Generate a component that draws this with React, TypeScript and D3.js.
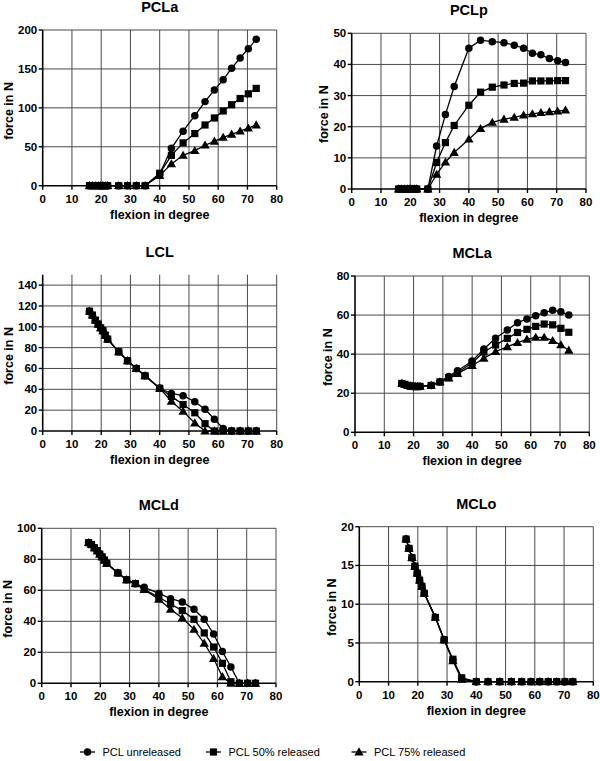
import React from "react";
import * as d3 from "d3";

// Shared flexion angles (degrees)
const angles = [16, 17, 18, 19, 19.8, 20.6, 21.4, 22.2, 26, 29, 32, 35, 40, 44, 48, 52, 55.5, 58.7, 61.7, 64.6, 67.5, 70.3, 73];

const seriesNames = ["PCL unreleased", "PCL 50% released", "PCL 75% released"];
const xTicks = [0, 10, 20, 30, 40, 50, 60, 70, 80];

// PCLa
const pclaUnreleased = [0, 0, 0, 0, 0, 0, 0, 0, 0, 0, 0, 0, 15, 48, 70, 90, 108, 123, 136, 151, 164, 176, 188];
const pcla50 = [0, 0, 0, 0, 0, 0, 0, 0, 0, 0, 0, 0, 16, 39, 55, 67, 78, 87, 96, 104, 112, 118, 125];
const pcla75 = [0, 0, 0, 0, 0, 0, 0, 0, 0, 0, 0, 0, 13, 28, 39, 45, 52, 57, 62, 66, 70, 74, 78];

// PCLp
const pclpUnreleased = [0, 0, 0, 0, 0, 0, 0, 0, 0, 13.8, 23.9, 32.9, 45.2, 47.8, 47.3, 47, 46.2, 45.2, 43.6, 43.1, 41.9, 41.2, 40.6];
const pclp50 = [0, 0, 0, 0, 0, 0, 0, 0, 0, 8.5, 14.9, 20.4, 26.9, 31.1, 32.7, 33.4, 33.9, 34.0, 34.7, 34.7, 34.7, 34.8, 34.8];
const pclp75 = [0, 0, 0, 0, 0, 0, 0, 0, 0, 4.7, 8.6, 11.7, 16, 19.4, 21.4, 22.4, 23.0, 23.7, 24.1, 24.5, 24.8, 25.0, 25.3];

// LCL
const lclUnreleased = [115, 111.2, 106.4, 102.6, 99, 96.2, 92, 88.2, 76, 67.4, 60, 53, 41, 36, 33.9, 28.1, 20.8, 11.3, 2.4, 0, 0, 0, 0];
const lcl50 = [115, 111.2, 106.4, 102.6, 99, 96.2, 92, 88.2, 76, 67.4, 60, 53, 41, 33.2, 25.4, 17.5, 7, 0, 0, 0, 0, 0, 0];
const lcl75 = [115, 111.2, 106.4, 102.6, 99, 96.2, 92, 88.2, 76, 67.4, 60, 53, 41, 28.5, 18.8, 7.7, 0, 0, 0, 0, 0, 0, 0];

// MCLa
const mclaUnreleased = [25, 24.5, 24, 23.7, 23.5, 23.4, 23.4, 23.5, 24, 25.8, 28.6, 31.5, 36.5, 42.6, 48.1, 52.4, 56.1, 58, 59.7, 61.2, 62.5, 61.7, 60];
const mcla50 = [25, 24.5, 24, 23.7, 23.5, 23.4, 23.4, 23.5, 24, 25.8, 28, 30.5, 35.6, 41.1, 44.7, 48.1, 51.1, 52.7, 54.2, 55.4, 55, 53.2, 51.2];
const mcla75 = [25, 24.5, 24, 23.7, 23.5, 23.4, 23.4, 23.5, 24, 25.8, 27.7, 30, 34.1, 37.9, 41.3, 43.8, 45.9, 47.6, 48.6, 48.6, 46.9, 44.7, 42];

// MCLd
const mcldUnreleased = [90.7, 89.5, 87.4, 85.5, 83.4, 81.6, 79.5, 77.4, 71.2, 66.8, 64.3, 61.9, 58, 54.6, 52.5, 47.7, 41.3, 31.8, 20.5, 10.5, 0, 0, 0];
const mcld50 = [90.7, 89.5, 87.4, 85.5, 83.4, 81.6, 79.5, 77.4, 71.2, 66.8, 64.3, 60.6, 55.5, 51.2, 46.9, 41.3, 32.5, 23.4, 12.9, 1, 0, 0, 0];
const mcld75 = [90.7, 89.5, 87.4, 85.5, 83.4, 81.6, 79.5, 77.4, 71.2, 66.8, 64.3, 60.4, 54.2, 47.7, 42.1, 34.8, 25.8, 16, 4.2, 0, 0, 0, 0];

// MCLo
const mcloUnreleased = [18.4, 17.2, 16.0, 14.9, 14.0, 13.1, 12.3, 11.4, 8.3, 5.4, 2.8, 0.4, 0, 0, 0, 0, 0, 0, 0, 0, 0, 0, 0];
const mclo50 = [18.4, 17.2, 16.0, 14.9, 14.0, 13.1, 12.3, 11.4, 8.3, 5.4, 2.9, 0.5, 0, 0, 0, 0, 0, 0, 0, 0, 0, 0, 0];
const mclo75 = [18.4, 17.2, 16.0, 14.9, 14.0, 13.1, 12.3, 11.4, 8.3, 5.4, 2.7, 0.3, 0, 0, 0, 0, 0, 0, 0, 0, 0, 0, 0];

const FONT = "'Liberation Sans', Arial, Helvetica, sans-serif";

type PanelDef = {
  title: string;
  left: number; right: number; top: number; bottom: number;
  yMax: number; yTicks: number[];
  series: number[][]; // unreleased, 50, 75
};

const panels: PanelDef[] = [
  { title: "PCLa", left: 42.7, right: 276.7, top: 30, bottom: 185.7, yMax: 200, yTicks: [0, 50, 100, 150, 200], series: [pclaUnreleased, pcla50, pcla75] },
  { title: "PCLp", left: 351.7, right: 586, top: 33.3, bottom: 189, yMax: 50, yTicks: [0, 10, 20, 30, 40, 50], series: [pclpUnreleased, pclp50, pclp75] },
  { title: "LCL", left: 42.7, right: 276.7, top: 274.7, bottom: 431, yMax: 150, yTicks: [0, 20, 40, 60, 80, 100, 120, 140], series: [lclUnreleased, lcl50, lcl75] },
  { title: "MCLa", left: 355, right: 589.3, top: 276, bottom: 432.3, yMax: 80, yTicks: [0, 20, 40, 60, 80], series: [mclaUnreleased, mcla50, mcla75] },
  { title: "MCLd", left: 41.7, right: 276, top: 528.3, bottom: 683.3, yMax: 100, yTicks: [0, 20, 40, 60, 80, 100], series: [mcldUnreleased, mcld50, mcld75] },
  { title: "MCLo", left: 359.3, right: 593.3, top: 526.7, bottom: 681.7, yMax: 20, yTicks: [0, 5, 10, 15, 20], series: [mcloUnreleased, mclo50, mclo75] },
];

const symbolTypes = [d3.symbolCircle, d3.symbolSquare, d3.symbolTriangle];
const symbolSizes = [44, 52, 38];

function Marker({ kind, x, y }: { kind: number; x: number; y: number }) {
  const p = d3.symbol().type(symbolTypes[kind]).size(symbolSizes[kind])();
  const dy = kind === 2 ? 0.7 : 0;
  return <path d={p || ""} transform={`translate(${x},${y + dy})`} fill="#000" />;
}

function Panel({ def }: { def: PanelDef }) {
  const x = d3.scaleLinear().domain([0, 80]).range([def.left, def.right]);
  const y = d3.scaleLinear().domain([0, def.yMax]).range([def.bottom, def.top]);
  const line = d3
    .line<[number, number]>()
    .x((d) => x(d[0]))
    .y((d) => y(d[1]));
  const cx = (def.left + def.right) / 2;
  const cy = (def.top + def.bottom) / 2 + 3;
  const maxLabelLen = d3.max(def.yTicks, (t) => String(t).length) || 2;
  const yTitleOffset = maxLabelLen >= 3 ? 30 : 23.5;
  const order = [2, 0, 1];
  return (
    <g>
      {/* grid */}
      {xTicks.filter((t) => t > 0).map((t) => (
        <line key={"gx" + t} x1={x(t)} x2={x(t)} y1={def.top} y2={def.bottom} stroke="#4a4a4a" strokeWidth={1} />
      ))}
      {def.yTicks.filter((t) => t > 0).map((t) => (
        <line key={"gy" + t} x1={def.left} x2={def.right} y1={y(t)} y2={y(t)} stroke="#4a4a4a" strokeWidth={1} />
      ))}
      {/* axes */}
      <line x1={def.left} x2={def.left} y1={def.top} y2={def.bottom} stroke="#000" strokeWidth={1.6} />
      <line x1={def.left} x2={def.right} y1={def.bottom} y2={def.bottom} stroke="#000" strokeWidth={1.6} />
      {def.yTicks.map((t) => (
        <g key={"ty" + t}>
          <line x1={def.left - 4} x2={def.left} y1={y(t)} y2={y(t)} stroke="#000" strokeWidth={1.4} />
          <text x={def.left - 5.5} y={y(t) + 4} textAnchor="end" fontSize={11.5} fontWeight="bold" fontFamily={FONT} fill="#000">{t}</text>
        </g>
      ))}
      {xTicks.map((t) => (
        <g key={"tx" + t}>
          <line x1={x(t)} x2={x(t)} y1={def.bottom} y2={def.bottom + 4} stroke="#000" strokeWidth={1.4} />
          <text x={x(t)} y={def.bottom + 17} textAnchor="middle" fontSize={11.5} fontWeight="bold" fontFamily={FONT} fill="#000">{t}</text>
        </g>
      ))}
      {/* titles */}
      <text x={cx} y={def.top - 18} textAnchor="middle" fontSize={14.5} fontWeight="bold" fontFamily={FONT} fill="#000">{def.title}</text>
      <text x={cx} y={def.bottom + 33} textAnchor="middle" fontSize={12.5} fontWeight="bold" fontFamily={FONT} fill="#000">flexion in degree</text>
      <text transform={`translate(${def.left - yTitleOffset},${cy}) rotate(-90)`} textAnchor="middle" fontSize={12.5} fontWeight="bold" fontFamily={FONT} fill="#000">force in N</text>
      {/* series */}
      {order.map((si) => {
        const pts: [number, number][] = angles.map((a, i) => [a, def.series[si][i]]);
        return (
          <g key={"s" + si}>
            <path d={line(pts) || ""} fill="none" stroke="#000" strokeWidth={1.3} />
            {pts.map((p, i) => (
              <Marker key={i} kind={si} x={x(p[0])} y={y(p[1])} />
            ))}
          </g>
        );
      })}
    </g>
  );
}

const legendX = [87.5, 213.5, 359];

export default function App() {
  return (
    <svg width={600} height={761} style={{ position: "absolute", left: 0, top: 0, background: "#fff" }}>
      <rect x={0} y={0} width={600} height={761} fill="#fff" />
      {panels.map((p) => (
        <Panel key={p.title} def={p} />
      ))}
      {seriesNames.map((name, i) => (
        <g key={name}>
          <line x1={legendX[i] - 7.5} x2={legendX[i] + 7.5} y1={752} y2={752} stroke="#000" strokeWidth={1.3} />
          <Marker kind={i} x={legendX[i]} y={752} />
          <text x={legendX[i] + 15} y={756} fontSize={11} fontFamily={FONT} fill="#000">{name}</text>
        </g>
      ))}
    </svg>
  );
}
